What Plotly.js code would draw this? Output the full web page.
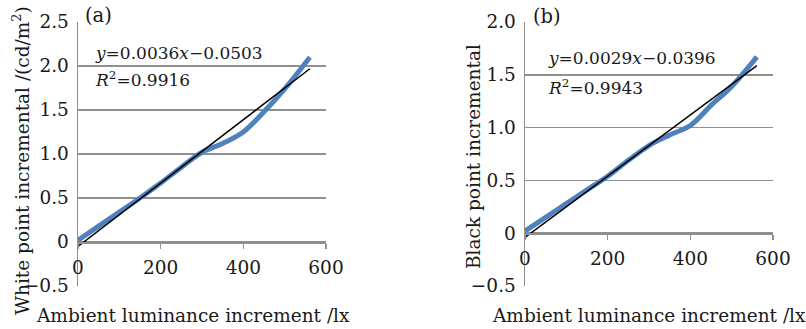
<!DOCTYPE html>
<html>
<head>
<meta charset="utf-8">
<script src="https://cdn.plot.ly/plotly-3.0.1.min.js"></script>
<style>html,body{margin:0;padding:0;background:#fff;}#chart{width:806px;height:329px;}</style>
</head>
<body>
<div id="chart"></div>
<script>
// ---- data ----
const luminanceA = [0, 50, 100, 150, 200, 250, 300, 350, 400, 450, 500, 561];
const whitePoint = [0.02, 0.18, 0.34, 0.50, 0.67, 0.85, 1.02, 1.12, 1.25, 1.48, 1.74, 2.10];
const trendAx = [0, 561];
const trendAy = [-0.0503, 1.969];

const luminanceB = [0, 50, 100, 150, 200, 250, 300, 350, 400, 450, 500, 561];
const blackPoint = [0.02, 0.15, 0.28, 0.41, 0.54, 0.69, 0.83, 0.93, 1.02, 1.21, 1.39, 1.67];
const trendBx = [0, 561];
const trendBy = [-0.0396, 1.587];

const xTickVals = [0, 200, 400, 600];
const xTickText = ['0', '200', '400', '600'];
const yTickValsA = [-0.5, 0, 0.5, 1.0, 1.5, 2.0, 2.5];
const yTickTextA = ['\u22120.5', '0', '0.5', '1.0', '1.5', '2.0', '2.5'];
const yTickValsB = [-0.5, 0, 0.5, 1.0, 1.5, 2.0];
const yTickTextB = ['\u22120.5', '0', '0.5', '1.0', '1.5', '2.0'];

const eqA = '<i>y</i>=0.0036<i>x</i>\u22120.0503';
const r2A = '<i>R</i><sup>2</sup>=0.9916';
const eqB = '<i>y</i>=0.0029<i>x</i>\u22120.0396';
const r2B = '<i>R</i><sup>2</sup>=0.9943';
const xTitle = 'Ambient luminance increment /lx';
const yTitleA = 'White point incremental /(cd/m<sup>2</sup>)';
const yTitleB = 'Black point incremental';

// ---- layout helpers ----
const W = 806, H = 329;
const px = x => x / W;
const py = y => 1 - y / H;
const FONT = 'DejaVu Serif, Liberation Serif, serif';
const GRID = '#8f8f8f';
const BLUE = '#4f81bd';
const TXT = '#1a1a1a';

const yDom = [py(286), py(22)];

const traces = [
  {x: luminanceA, y: whitePoint, xaxis: 'x', yaxis: 'y', mode: 'lines',
   line: {color: BLUE, width: 5, shape: 'spline'}, hoverinfo: 'skip'},
  {x: trendAx, y: trendAy, xaxis: 'x', yaxis: 'y', mode: 'lines',
   line: {color: '#000', width: 1.5}, hoverinfo: 'skip'},
  {x: luminanceB, y: blackPoint, xaxis: 'x2', yaxis: 'y2', mode: 'lines',
   line: {color: BLUE, width: 5, shape: 'spline'}, hoverinfo: 'skip'},
  {x: trendBx, y: trendBy, xaxis: 'x2', yaxis: 'y2', mode: 'lines',
   line: {color: '#000', width: 1.5}, hoverinfo: 'skip'}
];

function xAxis(domain, anchorFrac) {
  return {
    domain: domain, range: [0, 600], anchor: 'free', position: anchorFrac,
    tickmode: 'array', tickvals: xTickVals, ticktext: xTickText,
    showgrid: false, zeroline: false, showline: true, linecolor: GRID, linewidth: 1.5,
    ticks: 'outside', ticklen: 5, tickwidth: 1.5, tickcolor: GRID,
    ticklabelstandoff: 3,
    tickfont: {family: FONT, size: 18.5, color: TXT}, fixedrange: true
  };
}
function yAxis(range, vals, text, anchor) {
  return {
    domain: yDom, range: range, anchor: anchor,
    tickmode: 'array', tickvals: vals, ticktext: text,
    showgrid: true, gridcolor: GRID, gridwidth: 1.5, zeroline: false,
    showline: true, linecolor: GRID, linewidth: 1.5, ticks: '',
    ticklabelstandoff: 4,
    tickfont: {family: FONT, size: 18.5, color: TXT}, fixedrange: true
  };
}

const zeroA = yDom[0] + (yDom[1] - yDom[0]) * (0.5 / 3);
const zeroB = yDom[0] + (yDom[1] - yDom[0]) * (0.5 / 2.5);

function ann(text, x, y, size, opts) {
  return Object.assign({text: text, x: px(x), y: py(y), xref: 'paper', yref: 'paper',
    showarrow: false, font: {family: FONT, size: size, color: TXT},
    xanchor: 'center', yanchor: 'middle'}, opts || {});
}

const layout = {
  width: W, height: H, margin: {l: 0, r: 0, t: 0, b: 0},
  paper_bgcolor: '#fff', plot_bgcolor: '#fff', showlegend: false,
  xaxis: xAxis([px(78), px(326)], zeroA),
  yaxis: yAxis([-0.5, 2.5], yTickValsA, yTickTextA, 'x'),
  xaxis2: xAxis([px(525), px(773)], zeroB),
  yaxis2: yAxis([-0.5, 2.0], yTickValsB, yTickTextB, 'x2'),
  annotations: [
    ann('(a)', 98, 15, 19.5),
    ann('(b)', 547, 16, 19.5),
    ann(eqA, 93, 53, 17, {xanchor: 'left'}),
    ann(r2A, 93, 79, 17, {xanchor: 'left'}),
    ann(eqB, 546, 58, 17, {xanchor: 'left'}),
    ann(r2B, 546, 87, 17, {xanchor: 'left'}),
    ann(xTitle, 193, 315, 18.5),
    ann(xTitle, 649, 315, 18.5),
    ann(yTitleA, 21, 161, 18.5, {textangle: -90}),
    ann(yTitleB, 473, 157, 18.5, {textangle: -90})
  ]
};

Plotly.newPlot('chart', traces, layout, {staticPlot: true, displayModeBar: false});
</script>
</body>
</html>
